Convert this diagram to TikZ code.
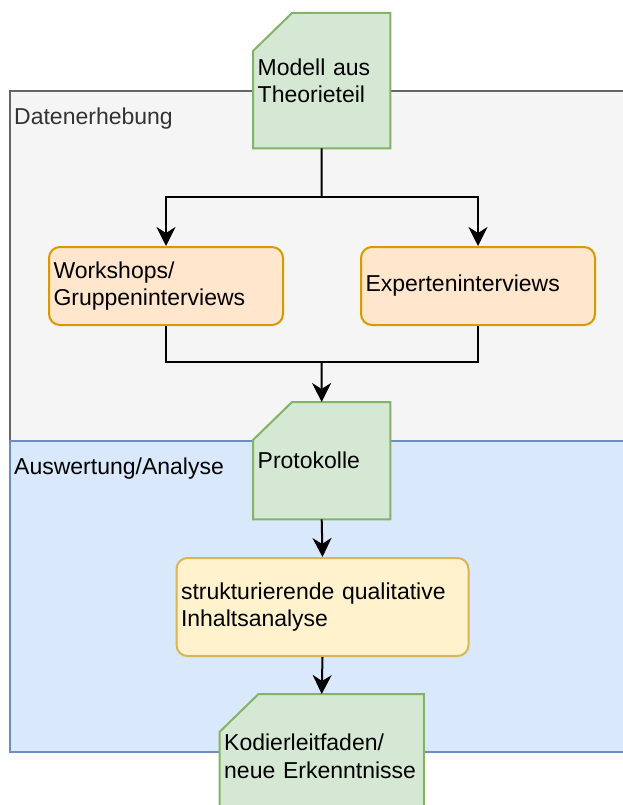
\documentclass[tikz,border=0pt]{standalone}
\usepackage{fontspec}
\setmainfont{Liberation Sans}
\usetikzlibrary{arrows.meta}

% layers: swimlanes at the back, card outlines above them, text on top
\pgfdeclarelayer{lanes}
\pgfdeclarelayer{cards}
\pgfsetlayers{lanes,cards,main}

\definecolor{cardfill}{HTML}{D5E8D4}
\definecolor{cardline}{HTML}{82B366}
\definecolor{orfill}{HTML}{FFE6CC}
\definecolor{orline}{HTML}{D79B00}
\definecolor{yefill}{HTML}{FFF2CC}
\definecolor{yeline}{HTML}{D6B656}
\definecolor{grfill}{HTML}{F5F5F5}
\definecolor{grline}{HTML}{666666}
\definecolor{grtext}{HTML}{333333}
\definecolor{blfill}{HTML}{DAE8FC}
\definecolor{blline}{HTML}{6C8EBF}

\tikzset{
  x=1pt, y=-1pt,
  every node/.style={font=\fontsize{23}{27.5}\selectfont},
  card/.style={inner xsep=4.5pt, inner ysep=0pt, align=left, anchor=north west},
  cardshape/.style={draw=cardline, fill=cardfill, line width=2pt, line join=miter},
  procbox/.style={inner xsep=4.5pt, inner ysep=0pt, align=left, anchor=north west,
    rounded corners=11pt, line width=2pt},
  orangebox/.style={procbox, draw=orline, fill=orfill},
  yellowbox/.style={procbox, draw=yeline, fill=yefill},
  lanelabel/.style={anchor=west, inner sep=0pt},
  conn/.style={line width=2pt, draw=black},
  flow/.style={conn, -{Stealth[length=19pt, width=19pt, inset=6pt]}},
}

\begin{document}
\begin{tikzpicture}
\useasboundingbox (0,0) rectangle (622,805);

% swimlanes
\begin{pgfonlayer}{lanes}
  \draw[fill=grfill, draw=grline, line width=1.5pt] (10,91) rectangle (660,441);
  \draw[fill=blfill, draw=blline, line width=1.5pt] (10,441) rectangle (660,752);
\end{pgfonlayer}
\node[lanelabel, text=grtext] (lane1) at (14,118.5) {Datenerhebung};
\node[lanelabel, text=black] (lane2) at (14,468.5) {Auswertung/Analyse};

% document cards
\node[card, text width=128pt, minimum height=135pt] (model) at (253,13) {Modell aus\\Theorieteil};
\node[card, text width=128pt, minimum height=117pt] (proto) at (253,402) {Protokolle};
\node[card, text width=195pt, minimum height=124pt] (kodier) at (219.5,694) {Kodierleitfaden/\\neue Erkenntnisse};

\begin{pgfonlayer}{cards}
  \foreach \c in {model, proto, kodier}{
    \draw[cardshape] ([yshift=-38pt]\c.north west) -- ([xshift=39pt]\c.north west)
      -- (\c.north east) -- (\c.south east) -- (\c.south west) -- cycle;
  }
\end{pgfonlayer}

% process boxes
\node[orangebox, text width=225pt, minimum height=78pt] (ws) at (48,246) {Workshops/\\Gruppeninterviews};
\node[orangebox, text width=225pt, minimum height=78pt] (ex) at (360,246) {Experteninterviews};
\node[yellowbox, text width=283pt, minimum height=98pt] (qia) at (175.5,557) {strukturierende qualitative\\Inhaltsanalyse};

% connectors
\coordinate (split) at (321.5,197);
\coordinate (merge) at (321.5,362);
\draw[conn] (model.south) -- (split);
\draw[flow] (split) -| (ws.north);
\draw[flow] (split) -| (ex.north);
\draw[conn] (ws.south) |- (merge);
\draw[conn] (ex.south) |- (merge);
\draw[flow] (merge) -- (proto.north);
\draw[flow] (proto.south) -- (qia.north);
\draw[flow] (qia.south) -- (kodier.north);
\end{tikzpicture}
\end{document}
